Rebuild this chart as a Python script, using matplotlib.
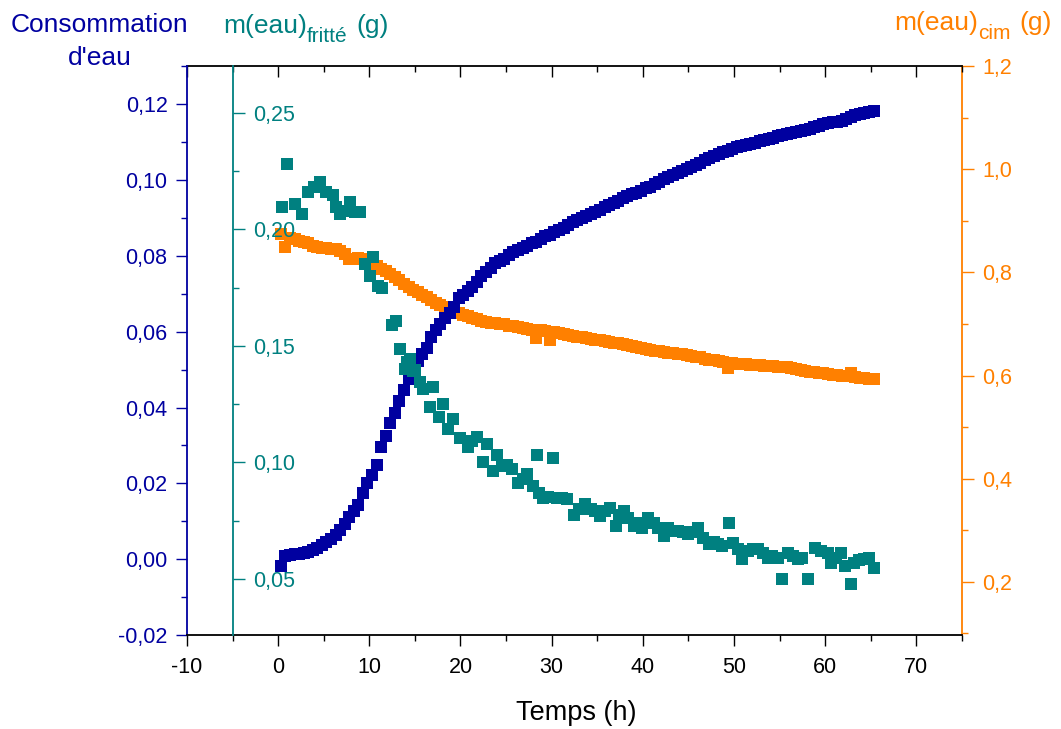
import numpy as np
import matplotlib
matplotlib.use('Agg')
import matplotlib.pyplot as plt
from matplotlib.ticker import MultipleLocator, FuncFormatter, NullFormatter

plt.rcParams['font.family'] = ['Liberation Sans', 'DejaVu Sans']
plt.rcParams['axes.unicode_minus'] = False

# temps de mesure (h) pour consommation d'eau et m(eau)cim
temps = [0.3, 0.8, 1.3, 1.8, 2.3, 2.8, 3.3, 3.8, 4.3, 4.8,
         5.3, 5.8, 6.3, 6.8, 7.3, 7.8, 8.3, 8.8, 9.3, 9.8,
         10.3, 10.8, 11.3, 11.8, 12.3, 12.8, 13.3, 13.8, 14.3, 14.8,
         15.3, 15.8, 16.3, 16.8, 17.3, 17.8, 18.3, 18.8, 19.3, 19.8,
         20.3, 20.8, 21.3, 21.8, 22.3, 22.8, 23.3, 23.8, 24.3, 24.8,
         25.3, 25.8, 26.3, 26.8, 27.3, 27.8, 28.3, 28.8, 29.3, 29.8,
         30.3, 30.8, 31.3, 31.8, 32.3, 32.8, 33.3, 33.8, 34.3, 34.8,
         35.3, 35.8, 36.3, 36.8, 37.3, 37.8, 38.3, 38.8, 39.3, 39.8,
         40.3, 40.8, 41.3, 41.8, 42.3, 42.8, 43.3, 43.8, 44.3, 44.8,
         45.3, 45.8, 46.3, 46.8, 47.3, 47.8, 48.3, 48.8, 49.3, 49.8,
         50.3, 50.8, 51.3, 51.8, 52.3, 52.8, 53.3, 53.8, 54.3, 54.8,
         55.3, 55.8, 56.3, 56.8, 57.3, 57.8, 58.3, 58.8, 59.3, 59.8,
         60.3, 60.8, 61.3, 61.8, 62.3, 62.8, 63.3, 63.8, 64.3, 64.8,
         65.3]

conso_eau = [-0.0018, 0.0008, 0.0011, 0.0013, 0.0015, 0.0017, 0.0019, 0.0023, 0.0030, 0.0038,
             0.0046, 0.0054, 0.0063, 0.0076, 0.0092, 0.0112, 0.0127, 0.0142, 0.0175, 0.0200,
             0.0222, 0.0248, 0.0295, 0.0325, 0.0358, 0.0385, 0.0418, 0.0447, 0.0476, 0.0500,
             0.0522, 0.0540, 0.0558, 0.0586, 0.0605, 0.0620, 0.0636, 0.0650, 0.0665, 0.0688,
             0.0697, 0.0708, 0.0718, 0.0732, 0.0746, 0.0758, 0.0768, 0.0780, 0.0786, 0.0793,
             0.0802, 0.0810, 0.0815, 0.0821, 0.0826, 0.0833, 0.0838, 0.0845, 0.0852, 0.0856,
             0.0862, 0.0868, 0.0874, 0.0881, 0.0889, 0.0895, 0.0900, 0.0905, 0.0911, 0.0917,
             0.0922, 0.0928, 0.0934, 0.0940, 0.0946, 0.0952, 0.0957, 0.0962, 0.0967, 0.0972,
             0.0978, 0.0983, 0.0989, 0.0996, 0.1002, 0.1008, 0.1014, 0.1019, 0.1024, 0.1029,
             0.1034, 0.1040, 0.1046, 0.1053, 0.1059, 0.1064, 0.1068, 0.1073, 0.1078, 0.1082,
             0.1086, 0.1089, 0.1092, 0.1095, 0.1098, 0.1102, 0.1106, 0.1109, 0.1112, 0.1116,
             0.1119, 0.1121, 0.1123, 0.1126, 0.1129, 0.1132, 0.1136, 0.1140, 0.1143, 0.1147,
             0.1150, 0.1152, 0.1154, 0.1156, 0.1161, 0.1166, 0.1171, 0.1174, 0.1177, 0.1180,
             0.1182]

m_cim = [0.874, 0.849, 0.866, 0.864, 0.861, 0.859, 0.857, 0.852, 0.849, 0.848,
         0.847, 0.846, 0.845, 0.842, 0.836, 0.826, 0.825, 0.827, 0.826, 0.820,
         0.816, 0.812, 0.807, 0.802, 0.796, 0.791, 0.786, 0.778, 0.771, 0.766,
         0.761, 0.756, 0.752, 0.746, 0.741, 0.737, 0.732, 0.727, 0.723, 0.721,
         0.718, 0.715, 0.712, 0.709, 0.706, 0.704, 0.702, 0.701, 0.700, 0.699,
         0.697, 0.696, 0.695, 0.693, 0.691, 0.689, 0.673, 0.688, 0.687, 0.668,
         0.684, 0.682, 0.681, 0.679, 0.677, 0.675, 0.674, 0.672, 0.671, 0.669,
         0.668, 0.667, 0.666, 0.664, 0.663, 0.661, 0.659, 0.657, 0.655, 0.653,
         0.651, 0.650, 0.648, 0.647, 0.646, 0.644, 0.643, 0.642, 0.641, 0.640,
         0.638, 0.636, 0.635, 0.633, 0.631, 0.630, 0.628, 0.626, 0.615, 0.624,
         0.623, 0.622, 0.622, 0.621, 0.620, 0.620, 0.619, 0.618, 0.618, 0.617,
         0.617, 0.616, 0.614, 0.613, 0.611, 0.609, 0.607, 0.606, 0.605, 0.604,
         0.603, 0.602, 0.601, 0.600, 0.599, 0.604, 0.598, 0.596, 0.595, 0.594,
         0.594]

# m(eau) fritté : points relevés séparément (plus bruités)
temps_fritte = [0.4, 1.0, 1.9, 2.6, 3.3, 3.9, 4.6, 5.3, 6.0, 6.4,
                6.8, 7.4, 7.9, 8.4, 9.0, 9.5, 10.1, 10.4, 11.0, 11.4,
                12.5, 12.9, 13.4, 13.9, 14.1, 14.5, 14.8, 15.0, 15.6, 15.9,
                16.7, 17.0, 17.6, 18.1, 18.6, 19.2, 20.0, 20.8, 21.3, 21.8,
                22.5, 22.9, 23.6, 24.0, 24.5, 25.1, 25.7, 26.3, 26.8, 27.3,
                27.9, 28.4, 28.6, 29.1, 29.6, 30.1, 30.6, 31.1, 31.7, 32.5,
                33.0, 33.7, 34.3, 34.8, 35.3, 35.8, 36.4, 37.0, 37.4, 37.9,
                38.4, 39.0, 39.4, 39.9, 40.6, 41.2, 41.7, 42.3, 42.8, 43.4,
                43.9, 44.4, 44.9, 45.5, 46.1, 46.6, 47.2, 47.8, 48.2, 48.7,
                49.4, 49.9, 50.4, 50.9, 51.5, 52.1, 52.6, 53.2, 53.7, 54.2,
                54.8, 55.3, 55.9, 56.5, 57.0, 57.5, 58.1, 58.9, 59.5, 60.3,
                60.6, 61.2, 61.7, 62.2, 62.8, 63.1, 63.7, 64.2, 64.8, 65.3]

m_fritte = [0.2094, 0.2278, 0.2107, 0.2064, 0.2158, 0.2180, 0.2201, 0.2160, 0.2145, 0.2094,
            0.2064, 0.2080, 0.2115, 0.2073, 0.2073, 0.1850, 0.1800, 0.1880, 0.1755, 0.1750,
            0.1590, 0.1605, 0.1487, 0.1400, 0.1430, 0.1444, 0.1390, 0.1398, 0.1346, 0.1316,
            0.1239, 0.1325, 0.1197, 0.1252, 0.1145, 0.1188, 0.1103, 0.1068, 0.1090, 0.1111,
            0.1004, 0.1077, 0.0962, 0.1034, 0.0985, 0.0991, 0.0974, 0.0910, 0.0930, 0.0949,
            0.0897, 0.1034, 0.0870, 0.0846, 0.0850, 0.1017, 0.0846, 0.0848, 0.0842, 0.0775,
            0.0800, 0.0820, 0.0800, 0.0790, 0.0769, 0.0790, 0.0803, 0.0726, 0.0775, 0.0791,
            0.0760, 0.0726, 0.0740, 0.0718, 0.0761, 0.0739, 0.0720, 0.0684, 0.0718, 0.0705,
            0.0705, 0.0700, 0.0692, 0.0700, 0.0718, 0.0675, 0.0650, 0.0660, 0.0650, 0.0641,
            0.0739, 0.0654, 0.0630, 0.0585, 0.0620, 0.0630, 0.0628, 0.0610, 0.0590, 0.0600,
            0.0590, 0.0500, 0.0611, 0.0600, 0.0585, 0.0590, 0.0500, 0.0632, 0.0620, 0.0611,
            0.0568, 0.0590, 0.0611, 0.0556, 0.0479, 0.0568, 0.0580, 0.0585, 0.0590, 0.0547]

BLEU = '#0000A0'
TEAL = '#008080'
ORANGE = '#FF8000'
W, H = 1061, 729


def virgule(dec):
    def fmt(v, pos):
        if abs(v) < 1e-9:
            v = 0.0
        return f'{v:.{dec}f}'.replace('.', ',')
    return FuncFormatter(fmt)


def titre_indice(x0, y0, base, indice, suite, color):
    # texte + indice plus petit + suite, places bout a bout (en pixels)
    r = fig.canvas.get_renderer()
    t1 = fig.text(x0 / W, 1 - y0 / H, base, color=color, fontsize=19, va='baseline')
    x1 = t1.get_window_extent(r).x1
    t2 = fig.text(x1 / W, 1 - (y0 + 9) / H, indice, color=color, fontsize=15, va='baseline')
    x2 = t2.get_window_extent(r).x1
    fig.text((x2 + 9) / W, 1 - y0 / H, suite, color=color, fontsize=19, va='baseline')


fig = plt.figure(figsize=(10.61, 7.29), dpi=100)
ax = fig.add_axes([0.1762, 0.1289, 0.7305, 0.7806])
ax_fr = ax.twinx()
ax_or = ax.twinx()
ax_or.set_zorder(1)
ax.set_zorder(2)
ax_fr.set_zorder(3)
for a in (ax, ax_fr, ax_or):
    a.patch.set_visible(False)

# axe principal : consommation d'eau
ax.plot(temps, conso_eau, 's', color=BLEU, ms=8, mew=0, ls='none')
ax.set_xlim(-10, 75)
ax.set_ylim(-0.02, 0.1301)
ax.spines['right'].set_visible(False)
ax.spines['top'].set_visible(False)
ax.spines['left'].set_color(BLEU)
ax.spines['left'].set_linewidth(1.3)
ax.spines['bottom'].set_linewidth(1.3)
ax.xaxis.set_major_locator(MultipleLocator(10))
ax.xaxis.set_minor_locator(MultipleLocator(5))
ax.yaxis.set_major_locator(MultipleLocator(0.02))
ax.yaxis.set_minor_locator(MultipleLocator(0.01))
ax.yaxis.set_major_formatter(virgule(2))
ax.tick_params(axis='x', which='major', direction='out', length=8, width=1, labelsize=15.5, pad=8)
ax.tick_params(axis='x', which='minor', direction='out', length=4.5, width=1)
ax.tick_params(axis='y', which='major', direction='out', length=8, width=1,
               colors=BLEU, labelsize=15.5, pad=6)
ax.tick_params(axis='y', which='minor', direction='out', length=4.5, width=1, colors=BLEU)

# ticks du haut, vers l'interieur
sec = ax.secondary_xaxis('top')
sec.xaxis.set_major_locator(MultipleLocator(10))
sec.xaxis.set_minor_locator(MultipleLocator(5))
sec.xaxis.set_major_formatter(NullFormatter())
sec.tick_params(which='major', direction='in', length=8, width=1)
sec.tick_params(which='minor', direction='in', length=4.5, width=1)
sec.spines['top'].set_linewidth(1.3)

# axe m(eau) fritté, place a t = -5
ax_fr.plot(temps_fritte, m_fritte, 's', color=TEAL, ms=8, mew=0, ls='none')
ax_fr.set_ylim(0.026, 0.27)
for s in ('left', 'top', 'bottom'):
    ax_fr.spines[s].set_visible(False)
ax_fr.spines['right'].set_position(('data', -5))
ax_fr.spines['right'].set_color(TEAL)
ax_fr.spines['right'].set_linewidth(1.3)
ax_fr.yaxis.set_major_locator(MultipleLocator(0.05))
ax_fr.yaxis.set_minor_locator(MultipleLocator(0.025))
ax_fr.yaxis.set_major_formatter(virgule(2))
ax_fr.tick_params(axis='y', which='major', direction='out', length=8.5, width=1,
                  colors=TEAL, labelsize=15.5, pad=6)
ax_fr.tick_params(axis='y', which='minor', direction='out', length=4.5, width=1, colors=TEAL)

# axe m(eau) cim a droite
ax_or.plot(temps, m_cim, 's', color=ORANGE, ms=8, mew=0, ls='none')
ax_or.set_ylim(0.097, 1.2001)
for s in ('left', 'top', 'bottom'):
    ax_or.spines[s].set_visible(False)
ax_or.spines['right'].set_color(ORANGE)
ax_or.spines['right'].set_linewidth(1.3)
ax_or.yaxis.set_major_locator(MultipleLocator(0.2))
ax_or.yaxis.set_minor_locator(MultipleLocator(0.1))
ax_or.yaxis.set_major_formatter(virgule(1))
ax_or.tick_params(axis='y', which='major', direction='out', length=8.5, width=1,
                  colors=ORANGE, labelsize=15.5, pad=6)
ax_or.tick_params(axis='y', which='minor', direction='out', length=4.5, width=1, colors=ORANGE)

# titres des axes
fig.text(99 / W, 1 - 32 / H, 'Consommation', color=BLEU, fontsize=19,
         ha='center', va='baseline')
fig.text(100 / W, 1 - 65 / H, "d'eau", color=BLEU, fontsize=19,
         ha='center', va='baseline')
titre_indice(223, 33, 'm(eau)', 'fritté', '(g)', TEAL)
titre_indice(894, 30, 'm(eau)', 'cim', '(g)', ORANGE)
fig.text(576 / W, 1 - 720 / H, 'Temps (h)', fontsize=19.5, ha='center', va='baseline')

fig.savefig('out.png', dpi=100)
